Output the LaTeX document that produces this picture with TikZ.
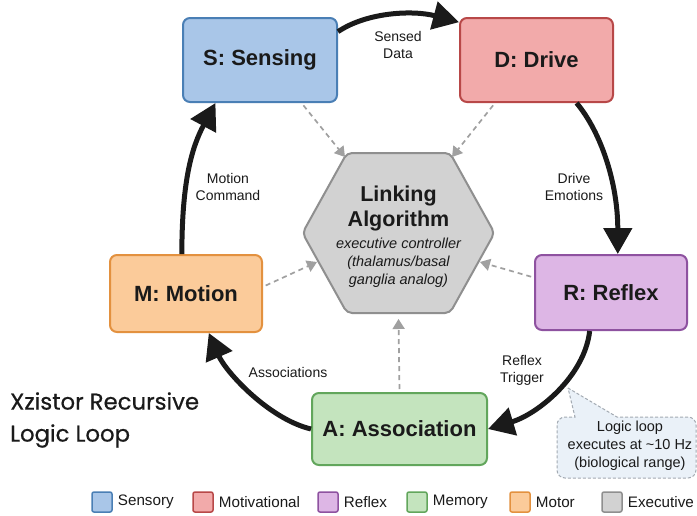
\documentclass[tikz,border=0pt]{standalone}
\usepackage{fontspec}
\setmainfont{Liberation Sans}
\newfontfamily\titlefont[FakeBold=0.5]{Poppins}
\usetikzlibrary{arrows.meta}
\definecolor{sfill}{HTML}{A9C6E8}\definecolor{sdraw}{HTML}{4A7FB5}
\definecolor{dfill}{HTML}{F2AAAA}\definecolor{ddraw}{HTML}{B84848}
\definecolor{rfill}{HTML}{DDB6E5}\definecolor{rdraw}{HTML}{8E52A0}
\definecolor{afill}{HTML}{C4E4BE}\definecolor{adraw}{HTML}{62A65C}
\definecolor{mfill}{HTML}{FBCB9A}\definecolor{mdraw}{HTML}{E3913F}
\definecolor{efill}{HTML}{D2D2D2}\definecolor{edraw}{HTML}{8F8F8F}
\definecolor{cfill}{HTML}{EAF1F8}\definecolor{cdraw}{HTML}{A3AAB2}
\definecolor{dashgray}{HTML}{A0A0A0}
\definecolor{inkblack}{HTML}{1A1A1A}
\tikzset{
  stagebox/.style={draw, rounded corners=7pt, line width=2pt, text=inkblack,
    font=\bfseries\fontsize{22}{26}\selectfont, inner sep=0pt},
  loop arrow/.style={draw=inkblack, line width=5pt,
    -{Triangle[length=26pt,width=28pt]}},
  link arrow/.style={draw=dashgray, line width=1.7pt, dash pattern=on 5pt off 4pt,
    -{Triangle[length=10pt,width=12pt]}, shorten <=3pt},
  lbl/.style={font=\fontsize{14}{17}\selectfont, text=inkblack, align=center},
  legbox/.style={draw, rounded corners=2pt, line width=1.5pt, minimum width=20pt,
    minimum height=20pt, inner sep=0pt},
  legtxt/.style={font=\fontsize{15.2}{18}\selectfont, text=inkblack, anchor=west, inner sep=0pt}
}
\begin{document}
\begin{tikzpicture}[x=1pt,y=-1pt]
\useasboundingbox[fill=white] (0,0) rectangle (697,515);

% stage boxes
\node[stagebox, fill=sfill, draw=sdraw, minimum width=154pt, minimum height=84pt] (S) at (260,60) {S: Sensing};
\node[stagebox, fill=dfill, draw=ddraw, minimum width=153pt, minimum height=84pt] (D) at (536.5,60) {D: Drive};
\node[stagebox, fill=rfill, draw=rdraw, minimum width=152pt, minimum height=75pt] (R) at (611,292.5) {R: Reflex};
\node[stagebox, fill=afill, draw=adraw, minimum width=175pt, minimum height=72pt] (A) at (399.5,429) {A: Association};
\node[stagebox, fill=mfill, draw=mdraw, minimum width=152pt, minimum height=77pt] (M) at (186,293.5) {M: Motion};

% hexagon
\draw[fill=efill, draw=edraw, line width=2pt, rounded corners=5pt]
  (302.5,233) -- (347,153) -- (450,153) -- (494.5,233) -- (450,313) -- (347,313) -- cycle;
\node[font=\bfseries\fontsize{21.5}{25}\selectfont, text=inkblack, align=center] (L) at (398.5,208) {Linking\\Algorithm};
\node[font=\itshape\fontsize{14.5}{18}\selectfont, text=inkblack, align=center] (Lsub) at (398.5,263) {executive controller\\(thalamus/basal\\ganglia analog)};
\coordinate (hs) at (345,157);
\coordinate (hd) at (452,157);
\coordinate (hm) at (317,262);
\coordinate (hr) at (480,262);
\coordinate (ha) at (398.5,319);

% dashed links
\draw[link arrow] (S.-46) -- (hs);
\draw[link arrow] (D.-134) -- (hd);
\draw[link arrow] (M.5) -- (hm);
\draw[link arrow] (R.169) -- (hr);
\draw[link arrow] (A.north) -- (ha);

% loop arrows
\draw[loop arrow] (S.20) .. controls +(30,-20) and +(-45,-12) .. (D.154);
\draw[loop arrow] (D.-47) .. controls +(25,30) and +(0,-70) .. (R.80);
\draw[loop arrow] (R.-119) .. controls +(-5,45) and +(50,-15) .. (A.east);
\draw[loop arrow] (A.west) .. controls +(-42,-10) and +(17,39) .. (M.-60);
\draw[loop arrow] (M.96) .. controls +(0,-75) and +(-23,43) .. (S.-136);

% arrow labels
\node[lbl] (l1) at (398,45) {Sensed\\Data};
\node[lbl] (l2) at (574,187) {Drive\\Emotions};
\node[lbl] (l3) at (522,370) {Reflex\\Trigger};
\node[lbl] (l4) at (288,372) {Associations};
\node[lbl] (l5) at (228,187) {Motion\\Command};

% title
\node[font=\titlefont\fontsize{22.8}{32}\selectfont, text=inkblack, align=left, anchor=west, inner sep=0pt] (T) at (10,420) {Xzistor Recursive\\Logic Loop};

% callout
\draw[fill=cfill, draw=cdraw, line width=1pt, dash pattern=on 3pt off 2pt]
  (568,388) -- (617,417) [rounded corners=8pt] -- (696,417) -- (696,478) -- (557,478) -- (557,417) [sharp corners] -- (575,417) -- cycle;
\node[font=\fontsize{14.5}{18}\selectfont, text=inkblack, align=center] (C) at (630,446) {Logic loop\\executes at {\char"7E}10 Hz\\(biological range)};

% legend
\node[legbox, fill=sfill, draw=sdraw] (k1) at (102,502) {};
\node[legtxt] (t1) at ([xshift=5pt]k1.east) {Sensory};
\node[legbox, fill=dfill, draw=ddraw] (k2) at (203,502) {};
\node[legtxt] (t2) at ([xshift=5pt]k2.east) {Motivational};
\node[legbox, fill=rfill, draw=rdraw] (k3) at (328,502) {};
\node[legtxt] (t3) at ([xshift=5pt]k3.east) {Reflex};
\node[legbox, fill=afill, draw=adraw] (k4) at (417,502) {};
\node[legtxt] (t4) at ([xshift=5pt]k4.east) {Memory};
\node[legbox, fill=mfill, draw=mdraw] (k5) at (520,502) {};
\node[legtxt] (t5) at ([xshift=5pt]k5.east) {Motor};
\node[legbox, fill=efill, draw=edraw] (k6) at (612,502) {};
\node[legtxt] (t6) at ([xshift=5pt]k6.east) {Executive};
\end{tikzpicture}
\end{document}
